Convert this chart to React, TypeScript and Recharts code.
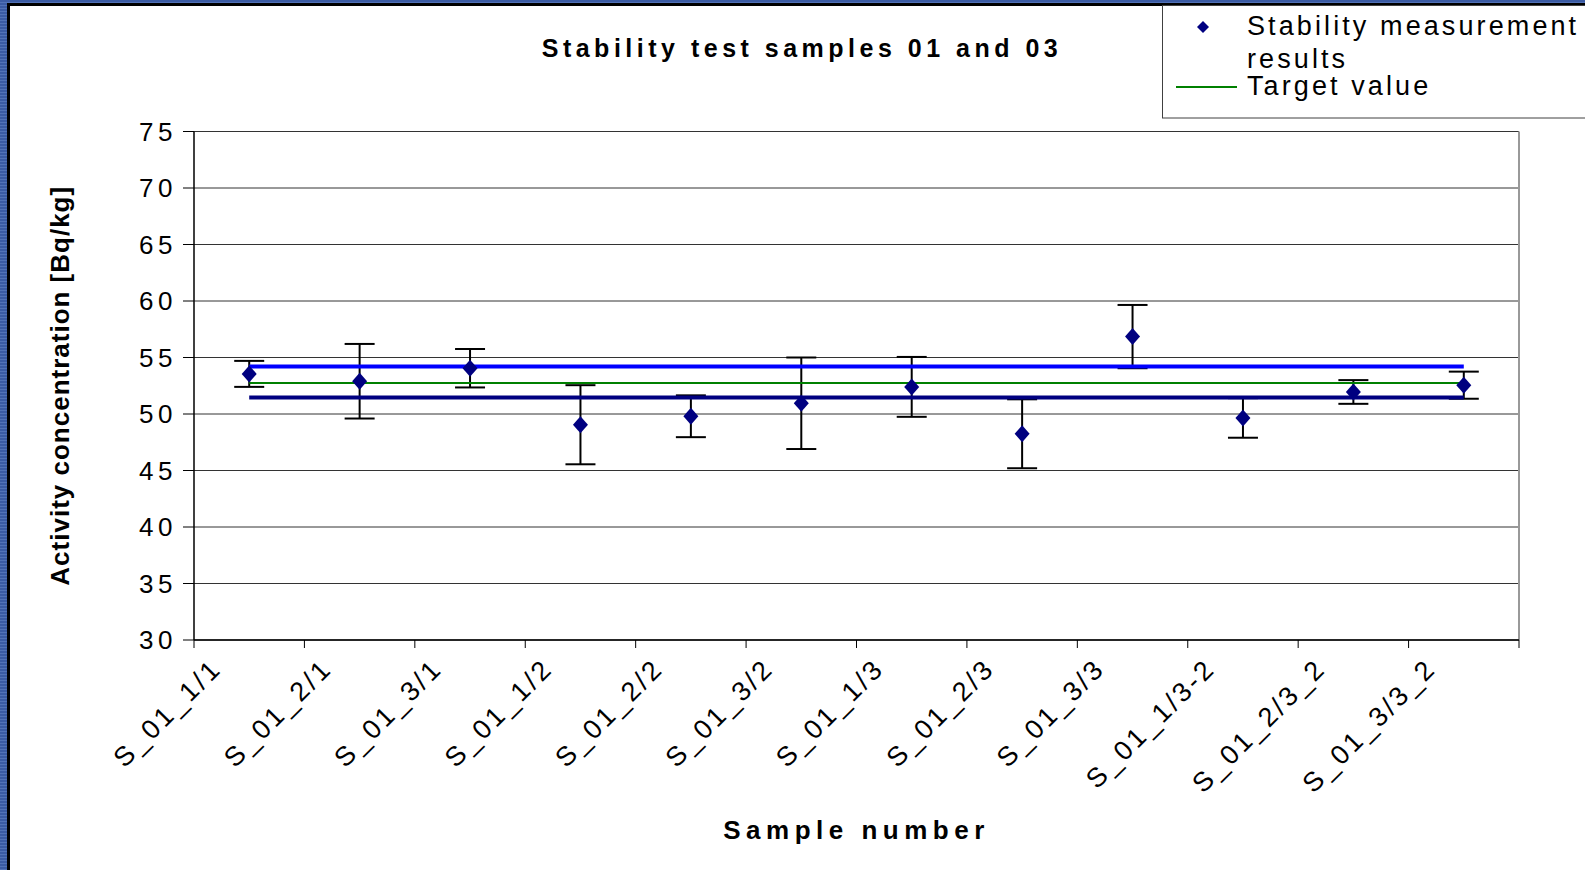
import { ComposedChart, Line, XAxis, YAxis, CartesianGrid, ErrorBar, Label } from "recharts";

const FONT = "'Liberation Sans', Arial, Helvetica, sans-serif";

const categories = [
  "S_01_1/1", "S_01_2/1", "S_01_3/1", "S_01_1/2", "S_01_2/2", "S_01_3/2",
  "S_01_1/3", "S_01_2/3", "S_01_3/3", "S_01_1/3-2", "S_01_2/3_2", "S_01_3/3_2",
];
const measured = [53.55, 52.9, 54.05, 49.05, 49.8, 50.95, 52.4, 48.25, 56.85, 49.65, 51.95, 52.55];
const uncertainty = [1.15, 3.3, 1.7, 3.5, 1.85, 4.05, 2.65, 3.05, 2.8, 1.75, 1.05, 1.2];
const targetValue = 52.75;
const upperLimit = 54.2;
const lowerLimit = 51.45;
const yTicks = [30, 35, 40, 45, 50, 55, 60, 65, 70, 75];

const data = categories.map((name, i) => ({
  name,
  value: measured[i],
  err: uncertainty[i],
  upper: upperLimit,
  target: targetValue,
  lower: lowerLimit,
}));

// eslint-disable-next-line @typescript-eslint/no-explicit-any
const Diamond = (props: any) => {
  const { cx, cy } = props;
  if (cx == null || cy == null) return null;
  return <polygon points={`${cx},${cy - 8.5} ${cx + 7.5},${cy} ${cx},${cy + 8.5} ${cx - 7.5},${cy}`} fill="#000080" />;
};

// category label at the band centre, tick marks on the band edges (Excel style)
// eslint-disable-next-line @typescript-eslint/no-explicit-any
const XTick = (props: any) => {
  const { x, y, payload, index, visibleTicksCount, width } = props;
  const half = payload.offset || width / visibleTicksCount / 2;
  const isLast = index === visibleTicksCount - 1;
  return (
    <g>
      <line x1={x - half} y1={y} x2={x - half} y2={y + 8} stroke="#000" />
      {isLast && <line x1={x + half} y1={y} x2={x + half} y2={y + 8} stroke="#000" />}
      <g transform={`translate(${x - 26},${y + 30}) rotate(-45)`}>
        <text x={0} y={0} textAnchor="end" fontSize={27} letterSpacing={3} fill="#000" fontFamily={FONT}>
          {payload.value}
        </text>
      </g>
    </g>
  );
};

// eslint-disable-next-line @typescript-eslint/no-explicit-any
const YTitle = (props: any) => {
  const vb = props.viewBox;
  const cx = vb.x + 60;
  const cy = vb.y + vb.height / 2;
  return (
    <text x={cx} y={cy} transform={`rotate(-90, ${cx}, ${cy})`} textAnchor="middle" dominantBaseline="central"
      fontSize={26} fontWeight="bold" letterSpacing={1} fill="#000" fontFamily={FONT}>
      Activity concentration [Bq/kg]
    </text>
  );
};

// eslint-disable-next-line @typescript-eslint/no-explicit-any
const XTitle = (props: any) => {
  const vb = props.viewBox;
  return (
    <text x={vb.x + vb.width / 2} y={vb.y + 199} textAnchor="middle" fontSize={26} fontWeight="bold"
      letterSpacing={5.5} fill="#000" fontFamily={FONT}>
      Sample number
    </text>
  );
};

// eslint-disable-next-line @typescript-eslint/no-explicit-any
const rightEdge = (props: any) => [props.offset.left + props.offset.width];

export default function App() {
  return (
    <div style={{ position: "absolute", left: 0, top: 0, width: 1585, height: 870, overflow: "hidden",
      background: "repeating-linear-gradient(180deg, #3b5ba3 0px, #3b5ba3 2px, #5272b6 2px, #5272b6 3px)" }}>
      <div style={{ position: "absolute", left: 7, top: 3, right: -10, bottom: -10, background: "#fff",
        borderLeft: "3px solid #000", borderTop: "3px solid #000" }} />
      <div style={{ position: "absolute", left: 0, top: 0 }}>
        <ComposedChart width={1585} height={870} data={data} margin={{ top: 131.5, right: 66, bottom: 0, left: 0 }}>
          <CartesianGrid vertical={false} stroke="#333" />
          <CartesianGrid horizontal={false} stroke="#999" strokeWidth={2} verticalCoordinatesGenerator={rightEdge} />
          <XAxis dataKey="name" type="category" scale="band" height={230} interval={0}
            tickLine={false} axisLine={{ stroke: "#000", strokeWidth: 1.5 }} tickSize={0} tickMargin={0} tick={<XTick />}>
            <Label content={<XTitle />} />
          </XAxis>
          <YAxis type="number" domain={[30, 75]} ticks={yTicks} interval={0} width={194} tickSize={11} tickMargin={6}
            allowDataOverflow axisLine={{ stroke: "#000", strokeWidth: 1.5 }} tickLine={{ stroke: "#000" }}
            tick={{ fontSize: 26, fill: "#000", letterSpacing: 4.5, fontFamily: FONT }}>
            <Label content={<YTitle />} />
          </YAxis>
          <Line dataKey="value" stroke="none" dot={false} activeDot={false} isAnimationActive={false}>
            <ErrorBar dataKey="err" direction="y" width={15} strokeWidth={2} stroke="#000" />
          </Line>
          <Line dataKey="upper" stroke="#0000ff" strokeWidth={4} dot={false} activeDot={false} isAnimationActive={false} />
          <Line dataKey="target" stroke="#008000" strokeWidth={2} dot={false} activeDot={false} isAnimationActive={false} />
          <Line dataKey="lower" stroke="#000080" strokeWidth={4} dot={false} activeDot={false} isAnimationActive={false} />
          <Line dataKey="value" stroke="none" dot={<Diamond />} activeDot={false} isAnimationActive={false} />
        </ComposedChart>
      </div>
      <svg width={1585} height={870} style={{ position: "absolute", left: 0, top: 0, pointerEvents: "none" }}>
        <text x={802} y={57} textAnchor="middle" fontSize={25} fontWeight="bold" letterSpacing={4.5} fill="#000" fontFamily={FONT}>
          Stability test samples 01 and 03
        </text>
        <rect x={1162.5} y={5.5} width={440} height={112.5} fill="#fff" stroke="#404040" strokeWidth={1} />
        <polygon points="1203,21 1209,27 1203,33 1197,27" fill="#000080" />
        <text x={1247} y={35} fontSize={27} letterSpacing={3.1} fill="#000" fontFamily={FONT}>Stability measurement</text>
        <text x={1247} y={68} fontSize={27} letterSpacing={3.1} fill="#000" fontFamily={FONT}>results</text>
        <line x1={1176} y1={87} x2={1237} y2={87} stroke="#008000" strokeWidth={2} />
        <text x={1247} y={95} fontSize={27} letterSpacing={3.1} fill="#000" fontFamily={FONT}>Target value</text>
      </svg>
    </div>
  );
}
